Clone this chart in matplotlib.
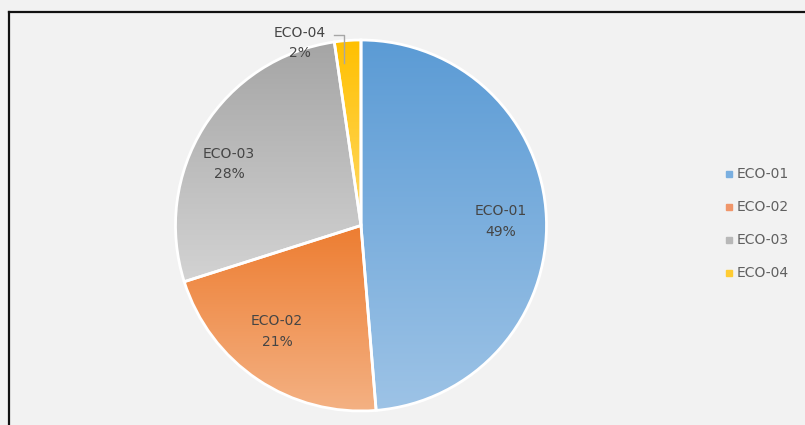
import numpy as np
import matplotlib.pyplot as plt
from matplotlib.colors import LinearSegmentedColormap

# Share of each ECO category (%), labels shown rounded
labels = ['ECO-01', 'ECO-02', 'ECO-03', 'ECO-04']
shares = [48.7, 21.4, 27.6, 2.3]
pct_text = ['49%', '21%', '28%', '2%']
top_colors = ['#5b9bd5', '#ed7d31', '#a5a5a5', '#ffc000']
bottom_colors = ['#9dc3e6', '#f4b183', '#d3d3d3', '#ffd966']
legend_colors = ['#7aafe0', '#f0966a', '#b8b8b8', '#ffcc33']

plt.rcParams['font.family'] = ['DejaVu Sans']

W, H = 805, 425
fig = plt.figure(figsize=(W / 100, H / 100), dpi=100)
fig.patch.set_facecolor('#f2f2f2')
ax = fig.add_axes([0, 0, 1, 1])
ax.set_facecolor('#f2f2f2')

# pie drawn in pixel-like data units
wedges, _ = ax.pie(shares, center=(361, H - 225.5), radius=185.5, startangle=90,
                   counterclock=False, frame=True,
                   wedgeprops=dict(edgecolor='white', linewidth=2))

# vertical gradient fill for every slice
grad = np.linspace(0, 1, 256).reshape(-1, 1)
for w, c_top, c_bot in zip(wedges, top_colors, bottom_colors):
    bb = w.get_path().get_extents()
    cmap = LinearSegmentedColormap.from_list('g', [c_bot, c_top])
    im = ax.imshow(grad, extent=[bb.x0, bb.x1, bb.y0, bb.y1], origin='lower',
                   cmap=cmap, aspect='auto', zorder=1)
    im.set_clip_path(w)
    w.set_facecolor('none')
    w.set_zorder(2)

ax.set_xlim(0, W)
ax.set_ylim(0, H)
ax.set_aspect('equal')
ax.axis('off')

# data labels
label_pos = [(501, 221.5), (277, 331.5), (229, 164), (300, 43)]
txt = dict(ha='center', va='center', fontsize=10, color='#454545', linespacing=1.55, zorder=5)
for lab, pct, (x, y) in zip(labels, pct_text, label_pos):
    ax.text(x, H - y, lab + '\n' + pct, **txt)

# leader line for the small slice
ax.plot([334, 344, 344], [H - 35, H - 35, H - 63], color='#a6a6a6', lw=1, zorder=5)

# legend drawn by hand to match spacing
for i, (lab, c) in enumerate(zip(labels, legend_colors)):
    y = H - (174 + 33 * i)
    ax.plot(729, y, marker='s', ms=4, color=c, ls='none', zorder=5)
    ax.text(737, y, lab, ha='left', va='center', fontsize=10, color='#606060', zorder=5)

# frame lines at top and left (image is cropped at right/bottom)
fig.add_artist(plt.Line2D([9 / W, 1], [1 - 12 / H, 1 - 12 / H], color='#111111', lw=1.6))
fig.add_artist(plt.Line2D([9 / W, 9 / W], [0, 1 - 12 / H], color='#111111', lw=1.6))

fig.savefig('out.png', dpi=100, facecolor=fig.get_facecolor())
